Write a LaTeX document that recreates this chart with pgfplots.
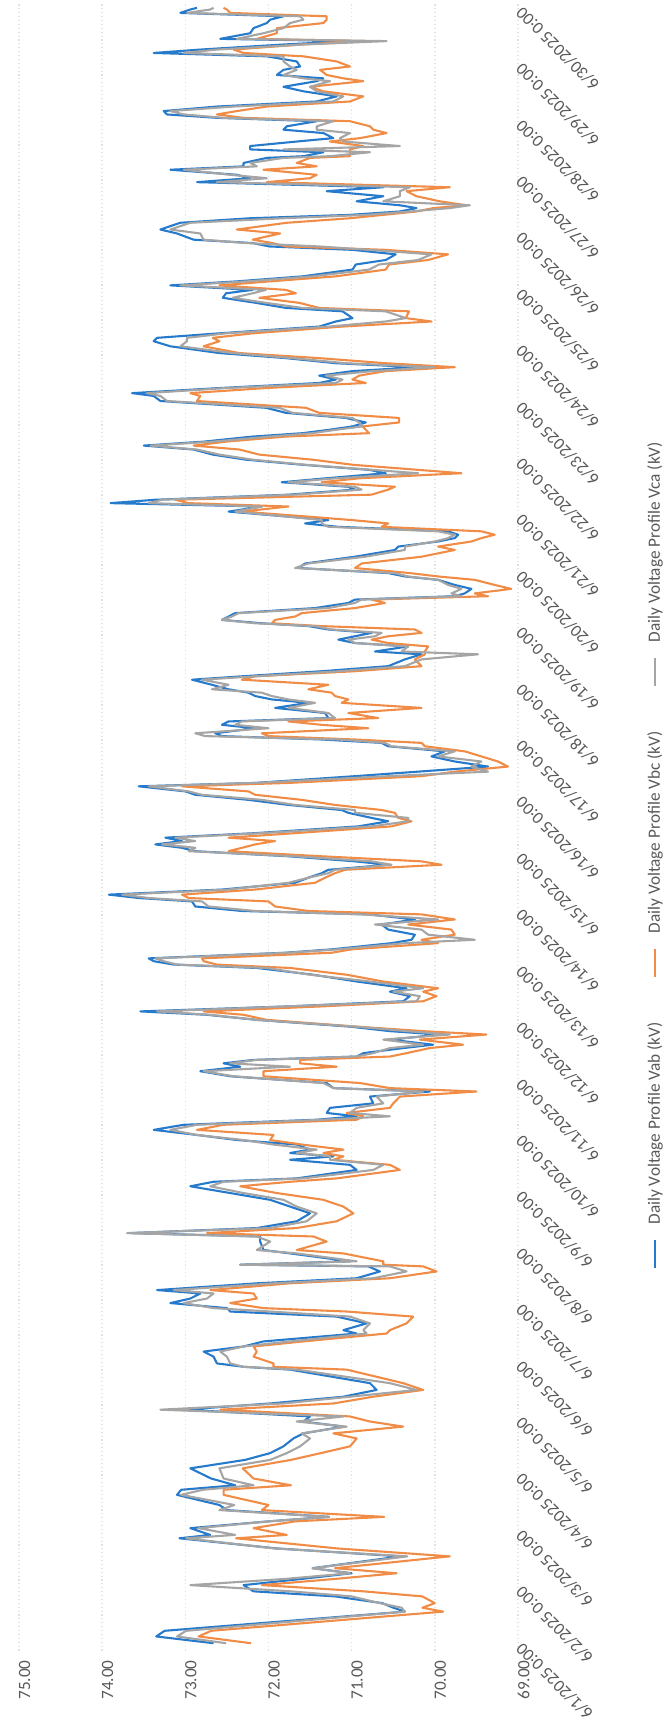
\documentclass[border=0pt]{standalone}
\usepackage{pgfplots}
\pgfplotsset{compat=1.18}
\usepackage{pgfplotstable}
\usepackage{fontspec}
\setmainfont{Carlito}

\definecolor{vab}{RGB}{38,122,204}
\definecolor{vbc}{RGB}{240,140,70}
\definecolor{vca}{RGB}{165,165,165}
\definecolor{labgray}{RGB}{89,89,89}
\definecolor{gridgray}{RGB}{225,225,225}
\newcommand{\labfont}{\fontsize{6.2}{7}\selectfont}

% day (0 = 6/1 0:00), Vab, Vbc, Vca in kV
\pgfplotstableread{
d ab bc ca
0.03 72.66 72.21 72.51
0.15 73.35 72.84 73.10
0.25 73.25 72.69 72.99
0.59 70.36 69.90 70.36
0.66 70.50 70.15 70.40
0.74 70.63 70.00 70.66
0.86 71.20 70.15 71.00
0.95 72.18 70.86 71.73
1.06 72.30 72.08 72.94
1.17 71.60 71.20 71.80
1.27 71.00 70.46 71.02
1.36 71.47 71.20 71.47
1.57 70.41 69.82 70.33
1.71 71.90 71.17 71.93
1.89 73.07 72.39 72.99
1.95 72.70 71.78 72.40
2.07 72.94 72.18 72.84
2.19 72.00 71.68 72.00
2.27 71.27 70.61 71.27
2.39 72.50 72.08 72.59
2.48 72.59 72.00 72.41
2.66 73.10 72.54 73.05
2.75 73.05 72.54 72.79
2.83 72.40 71.73 72.18
2.95 72.69 72.18 72.54
3.13 72.94 72.31 72.59
3.28 72.28 71.73 71.98
3.40 71.98 71.37 71.78
3.52 71.82 71.02 71.62
3.66 71.70 70.94 71.50
3.75 71.58 71.22 71.60
3.87 71.10 70.38 71.06
3.96 71.58 70.78 71.66
4.05 71.50 71.02 71.10
4.17 73.02 72.58 73.30
4.28 71.98 71.22 71.82
4.40 71.10 70.74 71.02
4.52 70.70 70.14 70.22
4.64 70.78 70.38 70.54
4.88 71.74 71.06 71.66
4.93 72.30 71.94 72.30
4.99 72.62 71.94 72.46
5.11 72.66 72.18 72.50
5.20 72.78 72.14 72.58
5.29 72.30 72.18 72.30
5.38 72.06 71.58 71.74
5.52 70.94 70.58 70.82
5.58 71.10 70.54 70.86
5.70 70.82 70.34 70.78
5.82 71.18 70.26 71.02
5.91 72.46 71.06 71.98
5.97 72.50 72.06 72.66
6.06 73.18 72.46 73.02
6.14 72.94 72.14 72.74
6.23 72.82 72.18 72.66
6.29 73.34 72.70 73.14
6.41 72.14 71.74 71.94
6.50 70.94 70.54 70.74
6.62 70.66 69.98 70.34
6.71 70.80 70.14 70.54
6.74 72.34 70.62 72.34
6.80 71.02 70.62 70.94
6.94 71.74 71.10 71.66
7.00 72.06 71.66 72.14
7.15 72.10 71.30 71.98
7.24 72.10 71.46 72.14
7.30 73.66 72.74 73.70
7.39 72.14 71.66 71.98
7.51 71.66 71.18 71.54
7.65 71.50 70.98 71.42
7.77 71.74 71.10 71.66
7.89 71.98 71.34 71.82
8.01 72.46 71.90 72.30
8.13 72.94 72.34 72.70
8.21 72.66 71.74 72.54
8.27 71.66 71.18 71.58
8.42 70.94 70.42 70.74
8.51 71.02 70.54 70.62
8.60 71.74 71.22 71.26
8.66 71.22 71.10 71.26
8.72 71.74 71.34 71.66
8.78 71.50 71.10 71.42
8.87 71.66 71.60 71.94
8.95 72.38 71.98 72.30
9.04 72.86 71.94 72.86
9.13 73.38 72.86 73.18
9.22 73.02 72.54 72.86
9.31 71.42 70.94 71.34
9.37 70.94 70.86 70.54
9.43 71.30 71.06 71.02
9.52 71.26 70.54 70.94
9.60 70.74 70.50 70.62
9.72 70.78 70.42 70.70
9.81 70.06 69.50 70.14
9.87 71.22 70.54 71.22
9.96 71.30 70.90 71.34
10.08 72.46 72.06 72.42
10.17 72.82 72.06 72.78
10.25 72.34 71.18 71.74
10.31 72.54 71.62 72.46
10.37 72.18 71.62 72.14
10.43 70.94 70.54 70.94
10.49 70.86 70.34 70.74
10.58 70.38 70.06 70.54
10.64 70.02 69.66 70.14
10.73 70.54 70.18 70.62
10.82 69.94 69.38 69.82
10.88 70.54 70.14 70.34
10.96 71.02 70.94 70.94
11.08 72.14 72.02 72.14
11.17 72.74 72.30 72.70
11.23 73.54 72.78 73.34
11.32 71.74 71.34 71.74
11.41 70.38 70.14 70.22
11.50 70.30 69.98 70.18
11.58 70.54 70.14 70.50
11.64 70.34 69.96 70.14
11.76 70.94 70.62 70.78
11.88 71.46 71.06 71.50
12.00 72.14 71.74 72.02
12.06 73.14 72.62 73.10
12.12 73.38 72.78 73.26
12.17 73.44 72.80 73.36
12.27 71.80 71.24 71.76
12.33 71.24 71.00 71.16
12.44 70.52 69.96 70.36
12.50 70.28 70.16 69.52
12.59 70.24 69.76 70.08
12.68 70.56 69.80 70.16
12.77 70.64 70.32 70.72
12.86 70.24 69.76 69.96
12.95 70.80 70.16 70.88
13.01 72.32 71.52 72.16
13.09 72.88 71.92 72.72
13.18 72.92 72.00 72.80
13.24 73.56 72.96 73.44
13.30 73.92 73.04 73.76
13.39 72.56 72.16 72.48
13.51 71.68 71.44 71.76
13.60 71.52 71.32 71.52
13.68 71.36 71.20 71.28
13.74 71.28 71.08 71.20
13.83 70.56 69.92 70.52
13.89 70.96 70.16 70.76
13.98 71.76 71.36 71.68
14.07 72.88 72.48 72.96
14.13 73.04 72.32 72.88
14.19 73.36 72.16 73.28
14.25 73.04 71.92 72.88
14.31 73.24 72.48 73.12
14.39 72.16 71.68 72.08
14.51 70.92 70.52 70.76
14.60 70.56 70.28 70.32
14.66 70.76 70.44 70.32
14.75 71.04 70.48 70.96
14.80 71.12 70.64 70.96
14.89 71.76 71.20 71.68
14.98 72.24 71.60 72.08
15.07 72.88 72.16 72.80
15.13 73.00 72.24 72.96
15.22 73.56 73.04 73.44
15.28 72.16 71.76 72.16
15.40 70.96 70.16 70.56
15.48 70.20 69.76 69.36
15.57 69.36 69.12 69.56
15.66 69.76 69.24 69.44
15.75 70.04 69.44 69.96
15.84 69.88 69.64 69.76
15.93 70.56 70.12 70.52
15.99 70.64 70.16 70.60
16.05 71.36 70.96 71.16
16.11 72.56 72.00 72.76
16.16 72.64 72.08 72.88
16.25 72.16 70.80 72.00
16.31 72.56 71.36 72.40
16.37 72.48 71.76 72.32
16.43 71.28 70.68 71.20
16.52 71.32 71.04 71.28
16.61 71.92 70.16 71.76
16.70 71.52 71.12 71.44
16.76 71.96 71.04 71.76
16.82 72.16 71.20 71.96
16.88 72.24 71.24 72.08
16.94 72.48 71.52 72.68
17.02 72.68 71.28 72.48
17.11 72.92 72.32 72.80
17.17 72.32 72.16 72.16
17.26 71.36 70.96 71.16
17.35 70.56 70.16 70.36
17.47 70.36 70.24 70.16
17.56 70.16 70.12 69.48
17.61 70.72 70.12 70.40
17.70 70.32 70.08 70.32
17.76 70.96 70.56 70.96
17.82 71.16 70.76 71.04
17.88 70.96 70.56 70.72
17.94 70.76 70.16 70.64
18.00 71.28 70.24 71.24
18.06 71.52 71.36 71.44
18.11 72.08 71.96 72.16
18.17 72.56 71.92 72.56
18.23 72.48 71.68 72.44
18.29 72.40 71.60 72.36
18.38 71.44 70.96 71.28
18.47 71.04 70.60 70.96
18.53 70.96 70.76 70.88
18.59 69.76 69.36 69.68
18.64 69.64 69.52 69.80
18.72 69.56 69.08 69.68
18.79 69.76 69.28 69.84
18.88 69.96 69.52 69.96
18.94 70.36 69.96 70.32
19.00 70.56 70.30 70.48
19.09 71.64 70.96 71.68
19.17 71.56 70.88 71.52
19.29 70.96 70.16 70.84
19.41 70.48 69.76 70.36
19.47 70.44 69.96 70.36
19.56 69.96 69.56 70.00
19.62 69.76 69.44 69.84
19.68 69.72 69.28 69.76
19.74 69.84 69.44 69.96
19.82 71.16 70.64 71.28
19.88 71.56 70.56 71.36
19.94 71.28 71.00 71.36
20.00 71.76 71.52 71.76
20.09 72.48 72.32 72.40
20.18 72.08 71.76 72.08
20.24 73.90 72.96 73.44
20.30 73.36 73.12 73.28
20.39 71.76 70.76 71.68
20.48 70.96 70.56 70.88
20.53 71.04 70.48 70.96
20.61 71.84 71.36 71.76
20.68 71.31 70.91 71.19
20.77 70.59 69.68 70.20
20.83 70.79 70.20 70.75
20.92 71.59 70.99 71.55
21.01 72.27 71.47 72.19
21.10 72.67 72.11 72.59
21.19 72.90 72.35 72.86
21.26 73.50 72.90 73.42
21.33 72.78 72.51 72.67
21.42 72.19 71.79 71.99
21.48 71.59 70.79 71.47
21.54 71.27 70.83 71.19
21.60 70.99 70.87 70.87
21.67 70.83 70.43 70.91
21.75 71.07 70.43 70.99
21.84 71.79 71.39 71.71
21.93 72.03 71.55 71.87
22.05 73.30 72.86 73.22
22.14 73.38 72.82 73.30
22.19 73.64 72.94 73.46
22.28 72.59 72.03 72.51
22.37 71.39 70.83 71.19
22.43 71.19 70.99 71.11
22.50 71.39 70.91 71.31
22.58 70.99 70.59 70.75
22.65 70.20 69.76 70.00
22.72 71.19 70.59 71.07
22.81 71.79 71.39 71.71
22.90 72.59 72.35 72.43
23.02 73.18 72.78 73.06
23.11 73.38 72.59 72.98
23.17 73.34 72.67 72.98
23.25 72.59 72.19 72.51
23.37 71.39 71.11 71.27
23.46 71.19 70.04 70.59
23.52 70.99 70.35 70.35
23.64 71.11 70.31 70.59
23.70 71.79 71.39 71.59
23.79 72.15 71.63 72.03
23.88 72.55 72.11 72.43
23.96 72.51 71.67 72.19
24.02 72.19 71.79 72.03
24.10 73.18 72.59 73.06
24.17 72.39 71.99 72.27
24.26 71.59 71.19 71.47
24.38 70.99 70.59 70.79
24.47 70.95 70.55 70.67
24.55 70.59 70.08 70.20
24.65 70.47 69.84 70.04
24.73 70.99 70.59 70.79
24.79 71.99 71.79 71.39
24.85 72.19 71.95 72.27
24.91 72.90 72.19 72.78
25.02 73.10 71.86 72.82
25.09 73.30 72.38 73.18
25.21 73.06 71.78 72.94
25.29 72.22 71.02 71.82
25.35 71.02 70.62 70.82
25.41 70.42 70.22 70.30
25.47 70.22 70.02 69.82
25.52 70.42 69.62 69.58
25.59 70.94 69.94 70.62
25.68 70.62 70.22 70.42
25.77 71.30 70.34 70.42
25.84 70.62 69.82 70.30
25.93 72.86 72.02 72.62
26.00 72.22 71.50 72.02
26.06 72.38 71.42 72.46
26.15 73.18 72.06 73.02
26.21 72.30 71.42 72.14
26.27 72.30 71.66 72.22
26.36 72.02 71.50 71.82
26.39 71.58 71.02 71.26
26.46 71.34 71.02 70.78
26.51 72.22 71.02 71.82
26.57 72.22 70.86 70.42
26.65 71.66 71.26 71.10
26.71 71.22 70.90 71.14
26.80 71.34 70.58 71.02
26.86 71.82 70.74 71.42
26.92 71.78 70.78 71.42
27.01 71.42 71.02 71.22
27.07 72.62 72.30 72.54
27.13 73.22 72.62 73.02
27.19 73.26 72.38 73.18
27.27 72.62 72.02 72.42
27.36 71.42 71.02 71.22
27.45 71.18 70.86 71.10
27.54 71.58 71.34 71.42
27.62 71.82 71.50 71.50
27.72 71.42 70.86 71.26
27.77 71.34 71.10 71.58
27.83 71.90 71.30 71.82
27.92 71.82 71.38 71.66
27.98 71.62 71.02 71.74
28.07 71.66 71.18 71.82
28.16 72.02 71.58 71.82
28.22 73.38 72.30 73.02
28.28 72.82 72.42 72.62
28.37 71.82 71.60 71.58
28.43 71.02 70.82 70.58
28.47 72.58 72.14 72.38
28.57 72.22 71.90 72.06
28.66 72.18 71.90 71.82
28.75 72.02 71.34 71.74
28.81 71.98 71.30 71.58
28.87 71.82 71.30 71.62
28.93 73.06 72.46 72.98
28.99 72.94 72.50 72.70
29.02 72.86 72.54 72.66
}\volts

\begin{document}
\begin{tikzpicture}
\begin{axis}[
    at={(0,0)}, anchor=south west,
    scale only axis,
    width=179.64pt, height=593pt,
    xmin=69, xmax=75, x dir=reverse,
    ymin=-0.1, ymax=29.1,
    axis line style={draw=none},
    tick style={draw=none},
    xtick={69,...,75},
    xticklabel={\pgfmathprintnumber[fixed,fixed zerofill,precision=2]{\tick}},
    /pgf/number format/assume math mode=true,
    xticklabel style={rotate=90, anchor=east, yshift=-2pt, font=\labfont, text=labgray},
    xmajorgrids,
    major grid style={gridgray, densely dotted, line width=0.5pt},
    ytick={0,...,29},
    yticklabels={6/1/2025 0:00, 6/2/2025 0:00, 6/3/2025 0:00, 6/4/2025 0:00,
        6/5/2025 0:00, 6/6/2025 0:00, 6/7/2025 0:00, 6/8/2025 0:00,
        6/9/2025 0:00, 6/10/2025 0:00, 6/11/2025 0:00, 6/12/2025 0:00,
        6/13/2025 0:00, 6/14/2025 0:00, 6/15/2025 0:00, 6/16/2025 0:00,
        6/17/2025 0:00, 6/18/2025 0:00, 6/19/2025 0:00, 6/20/2025 0:00,
        6/21/2025 0:00, 6/22/2025 0:00, 6/23/2025 0:00, 6/24/2025 0:00,
        6/25/2025 0:00, 6/26/2025 0:00, 6/27/2025 0:00, 6/28/2025 0:00,
        6/29/2025 0:00, 6/30/2025 0:00},
    yticklabel pos=right,
    yticklabel style={rotate=135, anchor=east, xshift=3pt, font=\labfont, text=labgray},
    every axis plot/.append style={line width=0.75pt, line join=round},
]
\addplot[vab] table[x=ab, y=d] {\volts};
\addplot[vbc] table[x=bc, y=d] {\volts};
\addplot[vca] table[x=ca, y=d] {\volts};
\end{axis}
% legend, set sideways like the rest of the chart
\begin{scope}[every node/.style={rotate=90, anchor=west, inner sep=0pt, font=\labfont, text=labgray}]
\draw[vab, line width=0.75pt] (229pt,137.7pt) -- (229pt,147.8pt);
\node at (229pt,153.2pt) {Daily Voltage Profile Vab (kV)};
\draw[vbc, line width=0.75pt] (229pt,242.5pt) -- (229pt,252.6pt);
\node at (229pt,258.0pt) {Daily Voltage Profile Vbc (kV)};
\draw[vca, line width=0.75pt] (229pt,347.3pt) -- (229pt,357.4pt);
\node at (229pt,362.8pt) {Daily Voltage Profile Vca (kV)};
\end{scope}
\pgfresetboundingbox
\path (-6.84pt,-26.8pt) rectangle (232.56pt,594.2pt);
\end{tikzpicture}
\end{document}
